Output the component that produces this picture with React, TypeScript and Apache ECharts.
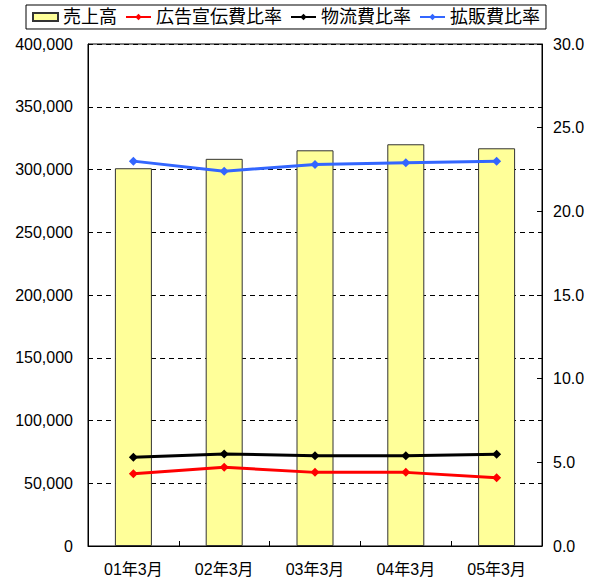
import React, { useEffect, useRef } from "react";
import * as echarts from "echarts";

const categories = ["01年3月", "02年3月", "03年3月", "04年3月", "05年3月"];
const sales = [301000, 308500, 315300, 320100, 316900];
const adRatio = [4.32, 4.7, 4.4, 4.4, 4.08];
const logisticsRatio = [5.3, 5.5, 5.4, 5.4, 5.48];
const promoRatio = [23.0, 22.4, 22.8, 22.9, 23.0];

const seriesNames = ["売上高", "広告宣伝費比率", "物流費比率", "拡販費比率"];

const FONT = "'Liberation Sans', Arial, 'Noto Sans CJK JP', sans-serif";

export default function App() {
  const ref = useRef<HTMLDivElement>(null);
  useEffect(() => {
    if (!ref.current) return;
    const chart = echarts.init(ref.current, null, { renderer: "svg" });
    const lineSeries = (name: string, data: number[], color: string) => ({
      name,
      type: "line",
      yAxisIndex: 1,
      data,
      symbol: "diamond",
      symbolSize: 9,
      lineStyle: { color, width: 3 },
      itemStyle: { color },
      z: 5,
    });
    chart.setOption({
      animation: false,
      backgroundColor: "#fff",
      textStyle: { fontFamily: FONT },
      legend: {
        left: 26,
        top: 5,
        padding: [3, 6],
        itemGap: 8,
        itemWidth: 25,
        itemHeight: 8,
        borderColor: "#000",
        borderWidth: 1,
        data: [
          { name: seriesNames[0], icon: "rect" },
          seriesNames[1],
          seriesNames[2],
          seriesNames[3],
        ],
        textStyle: { fontSize: 18, color: "#000", fontFamily: FONT },
      },
      grid: {
        left: 88,
        right: 55,
        top: 44,
        bottom: 40,
        show: true,
        borderColor: "#000",
        borderWidth: 1,
        backgroundColor: "transparent",
      },
      xAxis: {
        type: "category",
        data: categories,
        axisLine: { lineStyle: { color: "#000", width: 1 } },
        axisTick: { show: true, inside: true, length: 5, lineStyle: { color: "#000" } },
        axisLabel: { color: "#000", fontSize: 16, margin: 15, fontFamily: FONT },
      },
      yAxis: [
        {
          type: "value",
          min: 0,
          max: 400000,
          interval: 50000,
          axisLine: { show: true, lineStyle: { color: "#000" } },
          axisTick: { show: true, inside: true, length: 4, lineStyle: { color: "#000" } },
          axisLabel: {
            color: "#000",
            fontSize: 16,
            margin: 15,
            fontFamily: FONT,
            formatter: (v: number) => v.toLocaleString("en-US"),
          },
          splitLine: {
            show: true,
            lineStyle: { color: "#000", type: [5, 4], width: 1 },
          },
        },
        {
          type: "value",
          min: 0,
          max: 30,
          interval: 5,
          position: "right",
          axisLine: { show: true, lineStyle: { color: "#000" } },
          axisTick: { show: true, inside: true, length: 5, lineStyle: { color: "#000" } },
          axisLabel: {
            color: "#000",
            fontSize: 16,
            margin: 11,
            fontFamily: FONT,
            formatter: (v: number) => v.toFixed(1),
          },
          splitLine: { show: false },
        },
      ],
      series: [
        {
          name: seriesNames[0],
          type: "bar",
          data: sales,
          barWidth: 37,
          itemStyle: { color: "#FFFF99", borderColor: "#333", borderWidth: 1 },
          z: 2,
        },
        lineSeries(seriesNames[1], adRatio, "#FF0000"),
        lineSeries(seriesNames[2], logisticsRatio, "#000000"),
        lineSeries(seriesNames[3], promoRatio, "#3366FF"),
      ],
    });
    return () => chart.dispose();
  }, []);
  return <div ref={ref} style={{ width: 597, height: 586, position: "absolute", left: 0, top: 0 }} />;
}
